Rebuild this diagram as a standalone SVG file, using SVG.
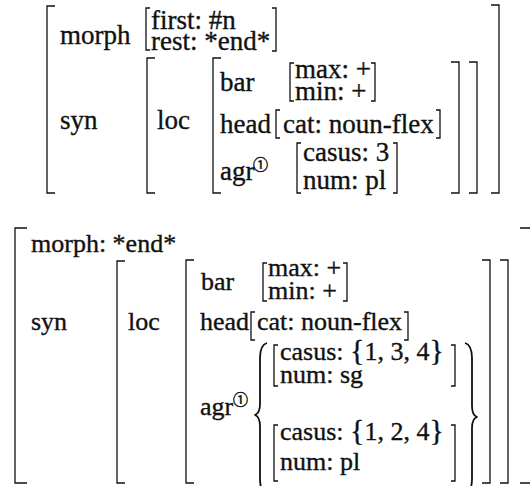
<svg xmlns="http://www.w3.org/2000/svg" width="530" height="486" viewBox="0 0 530 486">
  <style>
    text { font-family: "Liberation Serif", "Times New Roman", Tinos, "DejaVu Serif", serif; fill: #111; stroke: #111; stroke-width: 0.35; }
    #avm-top text { font-size: 27px; }
    #avm-bottom text { font-size: 26px; }
    #avm-top text.sup, #avm-bottom text.sup { font-family: "Noto Sans CJK JP", "DejaVu Sans", sans-serif; font-size: 15px; stroke-width: 0.5; }
    .br { fill: none; stroke: #111; stroke-width: 1.3; }
    .brace { fill: none; stroke: #111; stroke-width: 1.8; stroke-linejoin: round; }
    .big { font-size: 30px; }
  </style>
  <rect width="530" height="486" fill="#fff"/>

  <!-- first feature structure: morph with first/rest list -->
  <g id="avm-top">
    <!-- brackets: left ones open to the right, right ones open to the left -->
    <path class="br" d="M55 6H47V193H55"/>
    <path class="br" d="M491 5H499V193H491"/>
    <path class="br" d="M150 8H146V50H150"/>
    <path class="br" d="M272 8H276V51H272"/>
    <path class="br" d="M155 58H147V193H155"/>
    <path class="br" d="M469 62H477V193H469"/>
    <path class="br" d="M221 58H213V193H221"/>
    <path class="br" d="M451 62H459V193H451"/>
    <path class="br" d="M294 63H290V101H294"/>
    <path class="br" d="M371 63H375V101H371"/>
    <path class="br" d="M280 110H276V138H280"/>
    <path class="br" d="M436 110H440V138H436"/>
    <path class="br" d="M301 143H297V193H301"/>
    <path class="br" d="M393 143H397V193H393"/>

    <text x="60" y="44">morph</text>
    <text x="151" y="29">first: #n</text>
    <text x="151" y="50">rest: *end*</text>
    <text x="60" y="129">syn</text>
    <text x="157" y="129">loc</text>
    <text x="220" y="91">bar</text>
    <text x="295" y="78">max: +</text>
    <text x="295" y="100">min: +</text>
    <text x="220" y="133">head</text>
    <text x="283" y="133">cat: noun-flex</text>
    <text x="220" y="180">agr</text>
    <text class="sup" x="253" y="170">①</text>
    <text x="303" y="161">casus: 3</text>
    <text x="303" y="189">num: pl</text>
  </g>

  <!-- second feature structure: disjunctive agreement -->
  <g id="avm-bottom">
    <path class="br" d="M27 228H15V483H27"/>
    <path class="br" d="M520 228H531V483H520"/>
    <path class="br" d="M125 261H117V483H125"/>
    <path class="br" d="M500 260H508V483H500"/>
    <path class="br" d="M194 260H186V483H194"/>
    <path class="br" d="M482 260H490V483H482"/>
    <path class="br" d="M267 263H263V301H267"/>
    <path class="br" d="M343 263H347V301H343"/>
    <path class="br" d="M255 312H251V340H255"/>
    <path class="br" d="M404 312H408V340H404"/>
    <path class="br" d="M278 345H274V386H278"/>
    <path class="br" d="M451 345H455V386H451"/>
    <path class="br" d="M278 425H274V481H278"/>
    <path class="br" d="M451 425H455V481H451"/>

    <!-- large braces around the two alternatives -->
    <path class="brace" d="M267 343Q260 345 260 358V404Q260 413 255 415Q260 417 260 426V478Q260 486 262 490"/>
    <path class="brace" d="M465 343Q472 345 472 358V406Q472 415 477 417Q472 419 472 428V478Q472 486 470 490"/>

    <text x="31" y="252">morph: *end*</text>
    <text x="31" y="330">syn</text>
    <text x="128" y="330">loc</text>
    <text x="201" y="290">bar</text>
    <text x="268" y="276">max: +</text>
    <text x="268" y="299">min: +</text>
    <text x="200" y="330">head</text>
    <text x="257" y="330">cat: noun-flex</text>
    <text x="200" y="415">agr</text>
    <text class="sup" x="233" y="405">①</text>
    <text x="280" y="360">casus: <tspan class="big">{</tspan>1, 3, 4<tspan class="big">}</tspan></text>
    <text x="280" y="383">num: sg</text>
    <text x="280" y="440">casus: <tspan class="big">{</tspan>1, 2, 4<tspan class="big">}</tspan></text>
    <text x="280" y="470">num: pl</text>
  </g>
</svg>
